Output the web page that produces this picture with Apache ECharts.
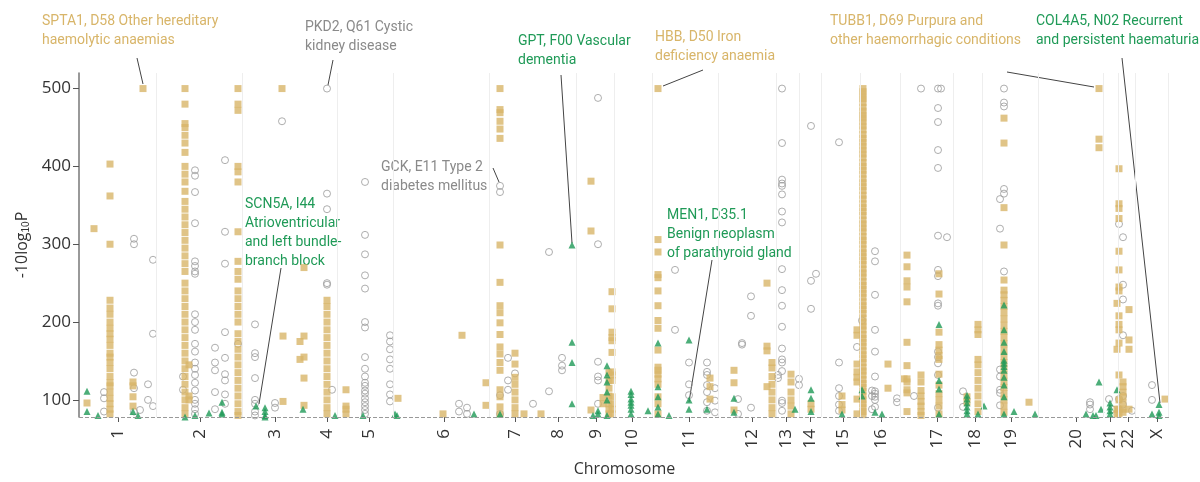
<!DOCTYPE html>
<html><head><meta charset="utf-8">
<script src="https://cdn.jsdelivr.net/npm/echarts@6/dist/echarts.min.js"></script>
<style>html,body{margin:0;padding:0;background:#fff}#c{width:1200px;height:482px}</style>
</head><body><div id="c"></div>
<script>
// Positions along genome (plot units), and -10log10P values grouped by position
const chromLabels = ['1','2','3','4','5','6','7','8','9','10','11','12','13','14','15','16','17','18','19','20','21','22','X'];
const chromCenters = [118,200,275,327,369,444,515,558,596,632,689,752,786,810,843,881,937,975,1011,1076,1110,1128,1157];
const chromBounds = [156,242,337,393,489,576,614,652,718,776,799,821,860,900,953,982,1038,1103,1118,1135,1168];
const yTicks = [100,200,300,400,500];

const goldGroups = [
 [87,[96]],[94,[320]],
 [110,[403,362,300,228,218,210,200,192,185,178,170,160,155,148,140,130,122,118,110,102,95,88,82]],
 [133,[123,118,104,92]],[143,[500]],
 [185,[500,480,455,450,440,430,418,400,390,380,368,355,345,335,325,315,305,295,285,275,265,250,240,230,220,210,200,190,180,170,160,150,140,130,120,110,100,90,82]],
 [189,[145,105,100]],
 [238,[500,480,472,400,393,380,316,278,265,255,240,230,220,210,200,185,175,165,155,145,135,125,115,105,95,85,80]],
 [282,[500]],[283,[182,98]],[300,[175,152]],[304,[270,182,155,128,93]],
 [327,[228,220,210,200,190,180,170,160,150,140,130,120,110,100,90,82]],
 [346,[113,92,88,82]],[398,[102]],[443,[82]],[462,[183]],[486,[122,93]],
 [500,[500,473,469,458,448,436,299,251,221,212,199,184,168,159,148,138,113,104,91,82]],
 [515,[160,146,129,120,110,100,90,82]],[524,[82]],[541,[82]],
 [591,[381,317,87]],[603,[103,95]],[609,[135,125,115,105,95,88,82]],
 [612,[239,217,187,180,176,161,136,132,125,104,95,88,82]],
 [658,[500,306,290,261,257,240,221,202,192,164,142,138,133,127,120,104,95,82]],
 [710,[128,117,101]],[734,[138,122,87]],
 [767,[250,169,163,117]],[772,[148,141,130,120,110,100,90,82]],
 [791,[133,123,110,100,92,82]],[811,[95,88]],
 [842,[105,94,87]],[857,[190,183,146,136,129,123,101,82]],
 [863,[500,496,491,487,482,476,471,466,462,457,452,447,441,436,431,426,421,416,411,405,400,395,390,384,379,374,369,363,358,352,347,342,337,331,326,321,316,310,305,300,294,289,284,279,274,268,263,258,252,247,242,237,232,226,221,216,211,205,200,195,190,184,179,174,169,163,158,153,148,142,137,132,126,121,116,111,105,100,95,90,85,81]],
 [888,[146,115]],
 [904,[127]],[907,[286,271,253,245,226,174,144,127,123,113,109,85]],
 [921,[132,123,112,105,98,92,85,80]],
 [939,[262,236,187,171,164,157,152,133,119,108,100,92,82]],
 [967,[104,97]],[978,[197,190,184,152,145,135,125,115,105,95,85]],
 [1004,[462,430,347,299,254,241,235,228,220,212,204,196,188,180,172,164,156,148,140,132,124,116,108,100,92,84]],
 [1029,[97]],[1099,[500,435,424]],
 [1117,[224,165,88,82]],[1119,[397,352,346,333,291,267,245,240,208,197,190,173,132,100,88,82]],
 [1123,[123,117,110,104,96,88,84]],[1129,[216,177,165,88]],[1165,[101]]
];
const greyGroups = [
 [104,[110,102,85]],[134,[307,300,135,115,85]],[140,[87]],[148,[120,100]],[153,[280,185,92]],
 [183,[130,113]],[195,[395,388,367,327,278,272,265,262,210,200,190,172,162,148,140,132,122,112,100,95,88,82]],
 [215,[167,148,138,110,88]],[225,[408,316,275,187,154,133,125,107,95]],[238,[172]],
 [255,[197,160,155,128,100,95,85,80]],[275,[96,90]],[282,[458]],
 [327,[500,365,345,250,248]],[332,[113]],
 [365,[380,312,287,260,243,200,193,155,140,130,122,118,112,108,102,97,92,87,82]],
 [390,[183,175,165,152,140,120,107,98]],[459,[95,85]],[467,[90,82]],
 [500,[375,367,106,82]],[508,[154,125,113]],[515,[134]],[533,[95]],
 [549,[290,111]],[562,[154,144,138]],[598,[488,300,149,130,125,95]],
 [675,[267,190]],[689,[148,120,106]],[707,[148,136,132,119,110,97,86]],[715,[115,99,84]],
 [738,[101,82]],[742,[173,171]],[751,[233,208,90]],[778,[132,128]],
 [782,[500,430,383,378,375,364,342,328,268,241,221,194,166,152,148,137,99,96,86]],
 [799,[127,119]],[811,[452,253,217]],[816,[262]],
 [839,[431,148,115,105,94,86]],[862,[202]],[857,[168]],
 [872,[112,105,88]],[875,[291,278,235,190,162,130,111,108,104,100,91]],
 [897,[102,97]],[914,[105]],[921,[500]],
 [938,[500,475,457,421,398,311,267,259,224,221,162,155,147,132,90]],[941,[500]],[947,[309]],
 [963,[111,91]],[1004,[500,482,477,371,365,265]],[1000,[358,320,139,130,113,109,93]],
 [1090,[97,94,88]],[1109,[101]],[1112,[88]],
 [1119,[326,101]],[1123,[309,248,229,183,105,94]],[1132,[86]],[1152,[119,100]]
];
const greenGroups = [
 [87,[111,85]],[98,[80]],[133,[85]],[138,[80]],[185,[78]],[195,[80]],[209,[83]],[222,[97,84,82]],
 [256,[92]],[265,[90,85,80,78]],[303,[88]],[335,[80]],[363,[80]],[395,[82]],[397,[80]],[474,[82]],[500,[82]],
 [572,[299,174,148,95]],[593,[80]],[598,[86,82]],[607,[144,132,123,110,100,80]],
 [631,[111,107,101,97,93,88,82]],[648,[86]],[658,[173,117,104,91,82]],[669,[80]],
 [689,[177,100,88]],[707,[88]],[734,[102,84]],[795,[88]],[811,[113,102,85]],
 [842,[82]],[862,[113,105]],[875,[84]],[882,[82]],
 [939,[197,125,114,82]],[967,[106,101,96,91,86,82]],[978,[82]],[984,[92]],
 [1004,[222,190,174,162,151,147,143,138,129,119,104,82]],[1014,[85]],[1035,[82]],
 [1086,[82]],[1093,[80]],[1096,[80]],[1099,[123]],[1101,[88]],[1110,[96,91,86,82]],
 [1117,[113]],[1152,[82]],[1159,[94,84,80]]
];
const flat = g => g.flatMap(([x, vs]) => vs.map(v => [x, v]));

const GOLD = '#d8b569', GREY = '#9a9a9a', GREEN = '#1f9a57';
const FONT = 'Roboto';
const annotations = [
 {t:'SPTA1, D58 Other hereditary\nhaemolytic anaemias', x:42, y:12, c:GOLD, l:[137,58,143,84]},
 {t:'PKD2, Q61 Cystic\nkidney disease', x:305, y:18, c:'#8a8a8a', l:[333,60,328,85]},
 {t:'GPT, F00 Vascular\ndementia', x:518, y:32, c:GREEN, l:[561,75,572,243]},
 {t:'HBB, D50 Iron\ndeficiency anaemia', x:655, y:28, c:GOLD, l:[703,70,663,86]},
 {t:'TUBB1, D69 Purpura and\nother haemorrhagic conditions', x:830, y:12, c:GOLD, l:[1007,72,1094,87]},
 {t:'COL4A5, N02 Recurrent\nand persistent haematuria', x:1036, y:12, c:GREEN, l:[1122,58,1160,403]},
 {t:'GCK, E11 Type 2\ndiabetes mellitus', x:381, y:158, c:'#8a8a8a', l:[493,168,499,182]},
 {t:'SCN5A, I44\nAtrioventricular\nand left bundle-\nbranch block', x:245, y:195, c:GREEN, l:[281,268,259,404]},
 {t:'MEN1, D35.1\nBenign neoplasm\nof parathyroid gland', x:667, y:206, c:GREEN, l:[712,260,689,402]}
];
const graphics = [];
annotations.forEach(a => {
  graphics.push({type:'text', left:a.x, top:a.y, style:{text:a.t, fill:a.c, font:'14px ' + FONT, lineHeight:19}});
  graphics.push({type:'line', shape:{x1:a.l[0],y1:a.l[1],x2:a.l[2],y2:a.l[3]}, style:{stroke:'#444', lineWidth:1}});
});

const chart = echarts.init(document.getElementById('c'));
chart.setOption({
  animation:false,
  grid:{left:79, right:30, top:73, bottom:62},
  xAxis:{type:'value', min:79, max:1170,
    axisLine:{show:false}, splitLine:{show:false},
    axisTick:{show:true, customValues:chromCenters, length:5, lineStyle:{color:'#555'}},
    axisLabel:{customValues:chromCenters, rotate:90, margin:12, color:'#333', fontSize:17, fontFamily:'Open Sans',
      formatter: v => chromLabels[chromCenters.indexOf(v)]},
    name:'Chromosome', nameLocation:'middle', nameGap:44, nameTextStyle:{fontSize:16, color:'#333', fontFamily:'Open Sans'}},
  yAxis:{type:'value', min:78, max:520,
    axisLine:{show:true, lineStyle:{color:'#777', width:1.5}},
    axisTick:{show:true, customValues:yTicks, length:6, lineStyle:{color:'#555'}},
    axisLabel:{customValues:yTicks, color:'#333', fontSize:17, fontFamily:'Open Sans', margin:8},
    splitLine:{show:false},
    name:'{a|-10log}{s|10}{a|P}', nameLocation:'middle', nameGap:48,
    nameTextStyle:{rich:{a:{fontSize:16, color:'#333', fontFamily:'Open Sans'}, s:{fontSize:10, color:'#333', verticalAlign:'bottom', padding:[8,0,0,0]}}}},
  graphic: graphics,
  series:[
    {type:'scatter', data:[], silent:true,
      markLine:{silent:true, symbol:'none', label:{show:false},
        lineStyle:{color:'#eeeeee', type:'solid', width:1},
        data: chromBounds.map(b => ({xAxis:b}))}},
    {type:'scatter', data:[], silent:true,
      markLine:{silent:true, symbol:'none', label:{show:false},
        lineStyle:{color:'#999', type:'dashed', width:1}, data:[{yAxis:78}]}},
    {name:'grey', type:'scatter', symbol:'circle', symbolSize:7, data:flat(greyGroups),
      itemStyle:{color:'rgba(255,255,255,0)', borderColor:GREY, borderWidth:1}},
    {name:'gold', type:'scatter', symbol:'rect', symbolSize:7, data:flat(goldGroups),
      itemStyle:{color:GOLD}},
    {name:'green', type:'scatter', symbol:'triangle', symbolSize:7, data:flat(greenGroups),
      itemStyle:{color:GREEN}}
  ]
});
</script></body></html>
